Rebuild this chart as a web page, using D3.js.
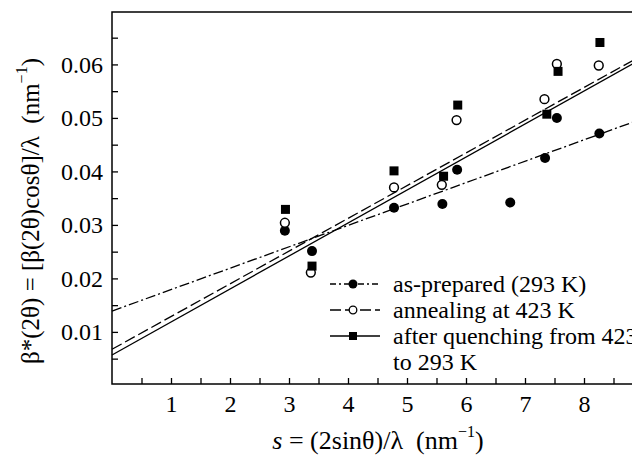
<!DOCTYPE html>
<html>
<head>
<meta charset="utf-8">
<script src="https://cdn.jsdelivr.net/npm/d3@7"></script>
<style>
  body { margin: 0; background: #fff; }
</style>
</head>
<body>
<div id="chart"></div>
<script>
// data
var seriesNames = ["as-prepared (293 K)", "annealing at 423 K", "after quenching from 423 K", "to 293 K"];

var sPrepared = [2.93, 3.39, 4.78, 5.60, 5.85, 6.75, 7.34, 7.54, 8.26];
var bPrepared = [0.0289, 0.0251, 0.0332, 0.0339, 0.0403, 0.0342, 0.0425, 0.0500, 0.0471];

var sAnnealed = [2.93, 3.37, 4.78, 5.59, 5.84, 7.33, 7.54, 8.25];
var bAnnealed = [0.0304, 0.0211, 0.0370, 0.0375, 0.0496, 0.0535, 0.0601, 0.0598];

var sQuenched = [2.94, 3.39, 4.78, 5.62, 5.86, 7.37, 7.56, 8.27];
var bQuenched = [0.0329, 0.0223, 0.0401, 0.0391, 0.0524, 0.0507, 0.0587, 0.0641];

// linear fits, given by their ends (s, beta)
var fitPrepared = [[0, 0.0139], [9, 0.0499]];
var fitAnnealed = [[0, 0.00675], [9, 0.0618]];
var fitQuenched = [[0, 0.00568], [9, 0.0612]];

var xMajor = [1, 2, 3, 4, 5, 6, 7, 8];
var xMinor = [0.5, 1.5, 2.5, 3.5, 4.5, 5.5, 6.5, 7.5, 8.5];
var yMajor = [0.01, 0.02, 0.03, 0.04, 0.05, 0.06];
var yMinor = [0.005, 0.015, 0.025, 0.035, 0.045, 0.055, 0.065];

var FONT = "Liberation Serif";

var svgWidth = 632;
var svgHeight = 456;

var margin = { top: 12, left: 112 };
var width = 531;
var height = 372;

var svg = d3.select("#chart")
  .append("svg")
  .attr("width", svgWidth)
  .attr("height", svgHeight)
  .style("display", "block");

var chartGroup = svg.append("g")
  .attr("transform", `translate(${margin.left}, ${margin.top})`);

var xScale = d3.scaleLinear().domain([0, 9]).range([0, width]);
var yScale = d3.scaleLinear().domain([0.00026, 0.06980]).range([height, 0]);

// frame
chartGroup.append("rect")
  .attr("width", width)
  .attr("height", height)
  .attr("fill", "none")
  .attr("stroke", "#000")
  .attr("stroke-width", 1.5);

// axes, ticks pointing inward
var bottomAxis = d3.axisBottom(xScale).tickValues(xMajor).tickFormat(d3.format("d"))
  .tickSizeInner(-6).tickSizeOuter(0).tickPadding(10);
var bottomMinor = d3.axisBottom(xScale).tickValues(xMinor).tickFormat("")
  .tickSizeInner(-6).tickSizeOuter(0);
var leftAxis = d3.axisLeft(yScale).tickValues(yMajor).tickFormat(d3.format(".2f"))
  .tickSizeInner(-6).tickSizeOuter(0).tickPadding(9);
var leftMinor = d3.axisLeft(yScale).tickValues(yMinor).tickFormat("")
  .tickSizeInner(-6).tickSizeOuter(0);

var xAxisG = chartGroup.append("g")
  .attr("transform", `translate(0, ${height})`)
  .call(bottomAxis);
chartGroup.append("g")
  .attr("transform", `translate(0, ${height})`)
  .call(bottomMinor);
var yAxisG = chartGroup.append("g").call(leftAxis);
chartGroup.append("g").call(leftMinor);

chartGroup.selectAll(".domain").remove();
chartGroup.selectAll(".tick line").attr("stroke", "#000").attr("stroke-width", 1.3);
chartGroup.selectAll(".tick text")
  .attr("font-family", FONT)
  .attr("font-size", 24)
  .attr("fill", "#000")
  .attr("dy", null);
xAxisG.selectAll(".tick text").attr("y", 28);
yAxisG.selectAll(".tick text").attr("y", 8);

// fit lines
var line = d3.line().x(d => xScale(d[0])).y(d => yScale(d[1]));
var styles = [
  { fit: fitPrepared, dash: "10,3,2,3" },
  { fit: fitAnnealed, dash: "11,4" },
  { fit: fitQuenched, dash: null }
];
styles.forEach(function(st) {
  chartGroup.append("path")
    .datum(st.fit)
    .attr("d", line)
    .attr("fill", "none")
    .attr("stroke", "#000")
    .attr("stroke-width", 1.3)
    .attr("stroke-dasharray", st.dash);
});

// points
chartGroup.selectAll(".pt-prep")
  .data(d3.zip(sPrepared, bPrepared))
  .enter()
  .append("circle")
  .attr("cx", d => xScale(d[0]))
  .attr("cy", d => yScale(d[1]))
  .attr("r", 5)
  .attr("fill", "#000");

chartGroup.selectAll(".pt-ann")
  .data(d3.zip(sAnnealed, bAnnealed))
  .enter()
  .append("circle")
  .attr("cx", d => xScale(d[0]))
  .attr("cy", d => yScale(d[1]))
  .attr("r", 4.4)
  .attr("fill", "#fff")
  .attr("stroke", "#000")
  .attr("stroke-width", 1.5);

chartGroup.selectAll(".pt-que")
  .data(d3.zip(sQuenched, bQuenched))
  .enter()
  .append("rect")
  .attr("x", d => xScale(d[0]) - 4.5)
  .attr("y", d => yScale(d[1]) - 4.5)
  .attr("width", 9)
  .attr("height", 9)
  .attr("fill", "#000");

// legend
var legend = svg.append("g").attr("transform", "translate(330, 284)");
var rowGap = 26;
styles.forEach(function(st, i) {
  var row = legend.append("g").attr("transform", `translate(0, ${i * rowGap})`);
  row.append("line")
    .attr("x1", 0).attr("x2", 50)
    .attr("stroke", "#000")
    .attr("stroke-width", 1.3)
    .attr("stroke-dasharray", i === 0 ? "6,3,2,3" : i === 1 ? "11,4" : null);
  if (i === 0) {
    row.append("circle").attr("cx", 23).attr("r", 4.5).attr("fill", "#000");
  } else if (i === 1) {
    row.append("circle").attr("cx", 23).attr("r", 3.8).attr("fill", "#fff")
      .attr("stroke", "#000").attr("stroke-width", 1.3);
  } else {
    row.append("rect").attr("x", 19).attr("y", -4).attr("width", 8).attr("height", 8).attr("fill", "#000");
  }
  row.append("text")
    .attr("x", 63)
    .attr("y", 8)
    .attr("font-family", FONT)
    .attr("font-size", 24)
    .text(seriesNames[i]);
});
legend.append("text")
  .attr("x", 63)
  .attr("y", 3 * rowGap + 8)
  .attr("font-family", FONT)
  .attr("font-size", 24)
  .text(seriesNames[3]);

// axis titles
var xTitle = svg.append("text")
  .attr("x", 378)
  .attr("y", 449)
  .attr("text-anchor", "middle")
  .attr("font-family", FONT)
  .attr("font-size", 26)
  .style("white-space", "pre");
xTitle.append("tspan").attr("font-style", "italic").text("s");
xTitle.append("tspan").text(" = (2sinθ)/λ  (nm");
xTitle.append("tspan").attr("font-size", 16).attr("dy", -12).text("−1");
xTitle.append("tspan").attr("dy", 12).text(")");

var yTitle = svg.append("text")
  .attr("transform", `translate(39, 211) rotate(-90)`)
  .attr("text-anchor", "middle")
  .attr("font-family", FONT)
  .attr("font-size", 25)
  .style("white-space", "pre");
yTitle.append("tspan").text("β*(2θ) = [β(2θ)cosθ]/λ  (nm");
yTitle.append("tspan").attr("font-size", 16).attr("dy", -12).text("−1");
yTitle.append("tspan").attr("dy", 12).text(")");
</script>
</body>
</html>
